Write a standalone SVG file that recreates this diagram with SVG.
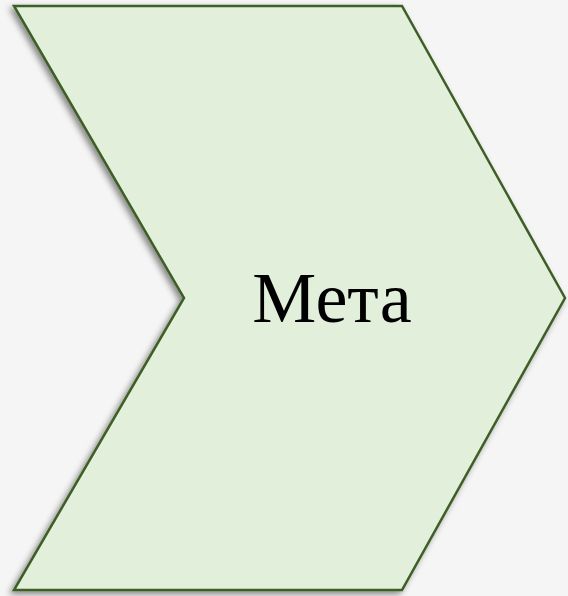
<svg xmlns="http://www.w3.org/2000/svg" width="568" height="596" viewBox="0 0 568 596">
<style>
.shape{fill:#e2efda;stroke:#3d5f27;stroke-width:2.5;stroke-linejoin:miter}
.lbl{font-family:"Liberation Serif","Times New Roman",serif;font-size:72px;fill:#000}
</style>
<defs>
<filter id="sh" x="-10%" y="-10%" width="120%" height="120%">
<feDropShadow dx="-3" dy="3" stdDeviation="3" flood-color="#000" flood-opacity="0.45"/>
</filter>
</defs>
<rect width="568" height="596" fill="#f5f5f5"/>
<g id="node-meta">
<polygon class="shape" filter="url(#sh)" points="14,6 402,6 565,298 402,590 14,590 184,298"/>
<text class="lbl" x="332" y="322" text-anchor="middle">Мета</text>
</g>
<g id="connectors"></g>
</svg>
